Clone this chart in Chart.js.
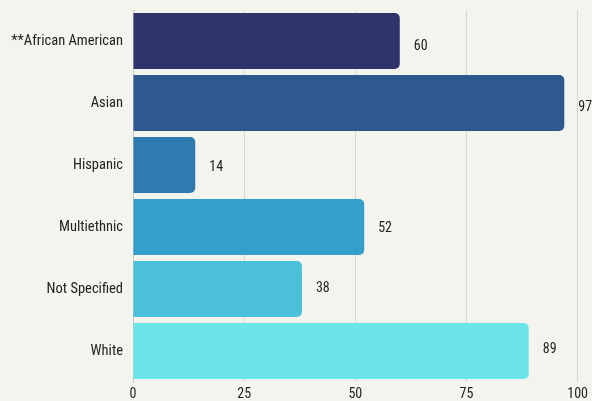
<!DOCTYPE html>
<html>
<head>
<meta charset="utf-8">
<script src="https://cdn.jsdelivr.net/npm/chart.js@4"></script>
<style>
    html, body { margin: 0; padding: 0; background: #f4f4ef; overflow: hidden; }
    #wrap { width: 592px; height: 401px; position: relative; }
</style>
</head>
<body>
<div id="wrap"><canvas id="raceChart"></canvas></div>
<script>
const categories = ['**African American', 'Asian', 'Hispanic', 'Multiethnic', 'Not Specified', 'White'];
const counts = [60, 97, 14, 52, 38, 89];
const barColors = ['#2f346b', '#2e598f', '#2f7bb0', '#349fca', '#4ac1d8', '#6be5e9'];
const xTicks = [0, 25, 50, 75, 100];

const fontFamily = "'Roboto Condensed', 'Liberation Sans Narrow', 'DejaVu Sans Condensed', Roboto, sans-serif";

// draws the count next to the end of each bar
// (labels sit slightly lower than the bar centre at the top, slightly higher at the bottom)
const valueLabels = {
    id: 'valueLabels',
    afterDatasetsDraw(chart) {
        const ctx = chart.ctx;
        const meta = chart.getDatasetMeta(0);
        const mid = (meta.data.length - 1) / 2;
        ctx.save();
        ctx.font = '14px ' + fontFamily;
        ctx.fillStyle = '#222222';
        ctx.textAlign = 'left';
        ctx.textBaseline = 'middle';
        meta.data.forEach((bar, i) => {
            ctx.fillText(String(counts[i]), bar.x + 14, bar.y + 2.2 - 1.5 * (i - mid));
        });
        ctx.restore();
    }
};

const ctx = document.getElementById('raceChart').getContext('2d');
new Chart(ctx, {
    type: 'bar',
    data: {
        labels: categories,
        datasets: [{
            data: counts,
            backgroundColor: barColors,
            borderRadius: 5,
            borderSkipped: 'start',
            categoryPercentage: 1,
            barPercentage: 0.9
        }]
    },
    options: {
        indexAxis: 'y',
        responsive: true,
        maintainAspectRatio: false,
        animation: false,
        layout: {
            padding: { top: 10, right: 14, bottom: 0, left: 0 }
        },
        plugins: {
            legend: { display: false },
            tooltip: { enabled: false }
        },
        scales: {
            x: {
                min: 0,
                max: 100,
                afterBuildTicks: function (scale) {
                    scale.ticks = xTicks.map(v => ({ value: v }));
                },
                afterFit: function (scale) {
                    scale.height = 19;
                },
                grid: {
                    color: '#d6d6d2',
                    drawTicks: false
                },
                border: { display: false },
                ticks: {
                    color: '#222222',
                    padding: 4,
                    font: { family: fontFamily, size: 14 }
                }
            },
            y: {
                afterFit: function (scale) {
                    scale.width = 133;
                    scale.paddingTop = 0;
                    scale.paddingBottom = 0;
                },
                grid: { display: false, drawTicks: false },
                border: { display: true, color: '#c8c8c4', width: 1 },
                ticks: {
                    color: '#222222',
                    padding: 10,
                    font: { family: fontFamily, size: 14.5 }
                }
            }
        }
    },
    plugins: [valueLabels]
});
</script>
</body>
</html>
